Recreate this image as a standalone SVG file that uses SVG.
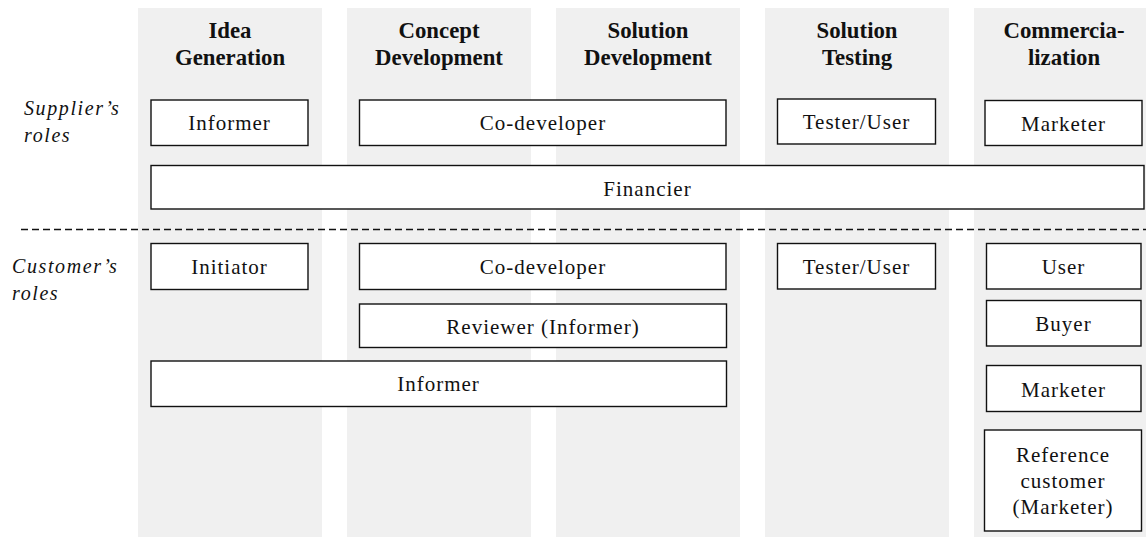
<svg xmlns="http://www.w3.org/2000/svg" width="1146" height="537" viewBox="0 0 1146 537">
<style>
.col{fill:#f0f0f0}
.box{fill:#fff;stroke:#111;stroke-width:1.4}
.t{font-family:"Liberation Serif","Times New Roman",serif;font-size:21px;letter-spacing:1px;fill:#111;text-anchor:middle}
.h{font-family:"Liberation Serif","Times New Roman",serif;font-size:22.8px;font-weight:bold;fill:#111;text-anchor:middle}
.r{font-family:"Liberation Serif","Times New Roman",serif;font-size:20px;font-style:italic;letter-spacing:1.6px;fill:#111}
</style>
<rect width="1146" height="537" fill="#fff"/>
<g id="columns">
<rect class="col" x="138" y="8" width="184" height="529"/>
<rect class="col" x="347" y="8" width="184" height="529"/>
<rect class="col" x="556" y="8" width="184" height="529"/>
<rect class="col" x="765" y="8" width="184" height="529"/>
<rect class="col" x="974" y="8" width="184" height="529"/>
</g>
<g id="headers">
<text class="h" x="230" y="38">Idea</text><text class="h" x="230" y="65">Generation</text>
<text class="h" x="439" y="38">Concept</text><text class="h" x="439" y="65">Development</text>
<text class="h" x="648" y="38">Solution</text><text class="h" x="648" y="65">Development</text>
<text class="h" x="857" y="38">Solution</text><text class="h" x="857" y="65">Testing</text>
<text class="h" x="1064" y="38">Commercia-</text><text class="h" x="1064" y="65">lization</text>
</g>
<g id="row-labels">
<text class="r" x="24" y="115">Supplier’s</text><text class="r" x="24" y="142">roles</text>
<text class="r" x="12" y="273">Customer’s</text><text class="r" x="12" y="300">roles</text>
</g>
<g id="connectors">
<line x1="21" y1="229.5" x2="1146" y2="229.5" stroke="#111" stroke-width="1.5" stroke-dasharray="7,4"/>
</g>
<g id="s-informer"><rect class="box" x="151" y="100" width="157" height="45.5"/><text class="t" x="229.5" y="130">Informer</text></g>
<g id="s-codeveloper"><rect class="box" x="359.5" y="100" width="366.5" height="45.5"/><text class="t" x="543" y="130">Co-developer</text></g>
<g id="s-tester"><rect class="box" x="777.5" y="99" width="158" height="45"/><text class="t" x="856.5" y="129">Tester/User</text></g>
<g id="s-marketer"><rect class="box" x="985" y="100.5" width="157" height="45"/><text class="t" x="1063.5" y="130.5">Marketer</text></g>
<g id="s-financier"><rect class="box" x="151" y="165.5" width="993" height="43.5"/><text class="t" x="647.5" y="196">Financier</text></g>
<g id="c-initiator"><rect class="box" x="151" y="243.5" width="157" height="46"/><text class="t" x="229.5" y="273.5">Initiator</text></g>
<g id="c-codeveloper"><rect class="box" x="359.5" y="243.5" width="366.5" height="46"/><text class="t" x="543" y="273.5">Co-developer</text></g>
<g id="c-tester"><rect class="box" x="777.5" y="243.5" width="158" height="45.5"/><text class="t" x="856.5" y="273.5">Tester/User</text></g>
<g id="c-user"><rect class="box" x="986.5" y="243.5" width="154.5" height="45.5"/><text class="t" x="1063.5" y="273.5">User</text></g>
<g id="c-reviewer"><rect class="box" x="359.5" y="304" width="367" height="43.5"/><text class="t" x="543" y="333.5">Reviewer (Informer)</text></g>
<g id="c-buyer"><rect class="box" x="986.5" y="300.5" width="154.5" height="45.5"/><text class="t" x="1063.5" y="330.5">Buyer</text></g>
<g id="c-informer"><rect class="box" x="151" y="361" width="575.5" height="45.5"/><text class="t" x="438.5" y="390.5">Informer</text></g>
<g id="c-marketer"><rect class="box" x="986.5" y="365.5" width="154.5" height="46"/><text class="t" x="1063.5" y="396.5">Marketer</text></g>
<g id="c-reference"><rect class="box" x="984.5" y="430" width="157" height="101"/><text class="t" x="1063" y="461.5">Reference</text><text class="t" x="1063" y="488">customer</text><text class="t" x="1063" y="513.5">(Marketer)</text></g>
</svg>
